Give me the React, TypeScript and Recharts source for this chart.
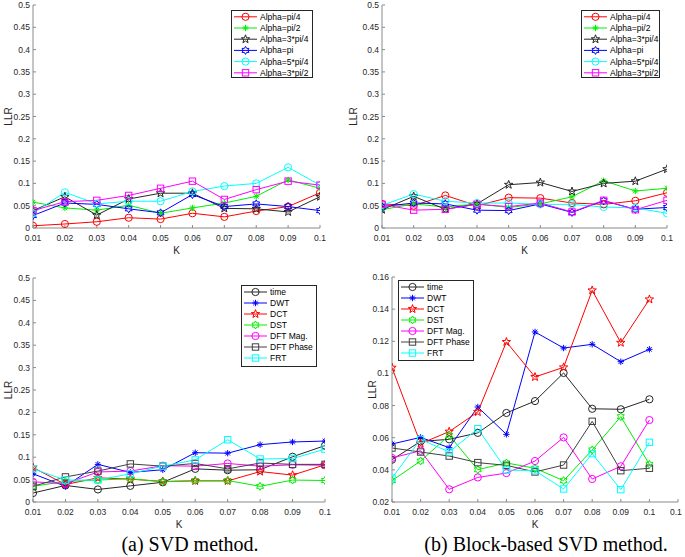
import React from 'react';
import { LineChart, Line, XAxis, YAxis, Legend } from 'recharts';

// ---------- data ----------
const kValues = [0.01, 0.02, 0.03, 0.04, 0.05, 0.06, 0.07, 0.08, 0.09, 0.1];
const xTicksA = [0.01, 0.02, 0.03, 0.04, 0.05, 0.06, 0.07, 0.08, 0.09, 0.1];
const xTicksB = [0.01, 0.02, 0.03, 0.04, 0.05, 0.06, 0.07, 0.08, 0.09, 0.1, 0.11];
const yTicksA = [0, 0.05, 0.1, 0.15, 0.2, 0.25, 0.3, 0.35, 0.4, 0.45, 0.5];
const yTicksB = [0.02, 0.04, 0.06, 0.08, 0.1, 0.12, 0.14, 0.16];

const alphaNames = ['Alpha=pi/4', 'Alpha=pi/2', 'Alpha=3*pi/4', 'Alpha=pi', 'Alpha=5*pi/4', 'Alpha=3*pi/2'];
const domainNames = ['time', 'DWT', 'DCT', 'DST', 'DFT Mag.', 'DFT Phase', 'FRT'];

// SVD method, alpha variants
const svdPi4 = [0.005, 0.009, 0.014, 0.023, 0.02, 0.033, 0.025, 0.038, 0.048, 0.079];
const svdPi2 = [0.058, 0.045, 0.04, 0.051, 0.033, 0.045, 0.056, 0.071, 0.108, 0.089];
const svd3Pi4 = [0.039, 0.07, 0.029, 0.065, 0.078, 0.078, 0.044, 0.043, 0.036, 0.07];
const svdPi = [0.028, 0.056, 0.053, 0.043, 0.034, 0.075, 0.048, 0.054, 0.048, 0.039];
const svd5Pi4 = [0.033, 0.08, 0.054, 0.06, 0.06, 0.082, 0.094, 0.1, 0.136, 0.096];
const svd3Pi2 = [0.039, 0.059, 0.062, 0.073, 0.089, 0.105, 0.064, 0.086, 0.105, 0.096];

// Block-based SVD method, alpha variants
const blkPi4 = [0.054, 0.05, 0.073, 0.05, 0.068, 0.067, 0.056, 0.053, 0.061, 0.079];
const blkPi2 = [0.041, 0.054, 0.047, 0.054, 0.046, 0.054, 0.07, 0.106, 0.083, 0.089];
const blk3Pi4 = [0.041, 0.071, 0.042, 0.054, 0.097, 0.102, 0.082, 0.1, 0.105, 0.132];
const blkPi = [0.048, 0.056, 0.054, 0.04, 0.039, 0.054, 0.035, 0.061, 0.042, 0.046];
const blk5Pi4 = [0.051, 0.076, 0.06, 0.056, 0.056, 0.053, 0.053, 0.047, 0.045, 0.033];
const blk3Pi2 = [0.053, 0.04, 0.042, 0.053, 0.048, 0.056, 0.036, 0.062, 0.041, 0.062];

// SVD method, domains
const svdTime = [0.02, 0.037, 0.028, 0.036, 0.044, 0.074, 0.071, 0.072, 0.101, 0.126];
const svdDWT = [0.063, 0.035, 0.084, 0.066, 0.072, 0.11, 0.109, 0.128, 0.134, 0.136];
const svdDCT = [0.077, 0.039, 0.054, 0.051, 0.046, 0.047, 0.047, 0.068, 0.06, 0.083];
const svdDST = [0.035, 0.046, 0.049, 0.052, 0.045, 0.048, 0.048, 0.035, 0.049, 0.048];
const svdMag = [0.045, 0.041, 0.067, 0.069, 0.081, 0.08, 0.086, 0.08, 0.083, 0.082];
const svdPhase = [0.035, 0.056, 0.069, 0.085, 0.08, 0.086, 0.074, 0.087, 0.084, 0.084];
const svdFRT = [0.074, 0.049, 0.049, 0.063, 0.08, 0.094, 0.139, 0.096, 0.097, 0.118];

// Block-based SVD method, domains
const blkTime = [0.0463, 0.0577, 0.059, 0.063, 0.0754, 0.0828, 0.1003, 0.078, 0.0777, 0.0839];
const blkDWT = [0.0561, 0.0602, 0.0538, 0.0791, 0.0621, 0.1258, 0.1158, 0.1181, 0.1073, 0.115];
const blkDCT = [0.1036, 0.0563, 0.0638, 0.076, 0.1196, 0.0978, 0.1038, 0.1517, 0.1191, 0.1461];
const blkDST = [0.0333, 0.0455, 0.0615, 0.0401, 0.0443, 0.041, 0.0333, 0.0524, 0.0731, 0.0434];
const blkMag = [0.0474, 0.0519, 0.0279, 0.0353, 0.038, 0.0455, 0.0602, 0.0343, 0.0422, 0.071];
const blkPhase = [0.0536, 0.0511, 0.0486, 0.0445, 0.0428, 0.0387, 0.043, 0.0702, 0.0395, 0.041];
const blkFRT = [0.0349, 0.059, 0.0511, 0.0656, 0.0399, 0.0395, 0.0281, 0.0501, 0.0277, 0.0571];

// ---------- styling ----------
const alphaColors = ['#ff0000', '#00ee00', '#262626', '#0000ff', '#00ffff', '#ff00ff'];
const alphaShapes = ['o', '*', 'p', 'h', 'o', 's'];
const domainColors = ['#262626', '#0000ff', '#ff0000', '#00ee00', '#ff00ff', '#404040', '#00ffff'];
const domainShapes = ['o', '*', 'p', 'h', 'o', 's', 's'];

type Series = { key: string; name: string; color: string; shape: string; values: number[] };

const makeSeries = (names: string[], colors: string[], shapes: string[], vals: number[][]): Series[] =>
  names.map((n, i) => ({ key: 's' + i, name: n, color: colors[i], shape: shapes[i], values: vals[i] }));

const buildRows = (series: Series[]) =>
  kValues.map((k, i) => {
    const r: any = { k };
    series.forEach((s) => (r[s.key] = s.values[i]));
    return r;
  });

function starPoints(cx: number, cy: number, n: number, ro: number, ri: number) {
  const pts: string[] = [];
  for (let i = 0; i < 2 * n; i++) {
    const r = i % 2 === 0 ? ro : ri;
    const a = -Math.PI / 2 + (i * Math.PI) / n;
    pts.push(`${(cx + r * Math.cos(a)).toFixed(2)},${(cy + r * Math.sin(a)).toFixed(2)}`);
  }
  return pts.join(' ');
}

function Marker({ shape, cx, cy, color }: { shape: string; cx: number; cy: number; color: string }) {
  if (cx == null || cy == null || isNaN(cx) || isNaN(cy)) return <g />;
  switch (shape) {
    case 'o':
      return <circle cx={cx} cy={cy} r={3.6} fill="none" stroke={color} strokeWidth={1} />;
    case 's':
      return <rect x={cx - 3.2} y={cy - 3.2} width={6.4} height={6.4} fill="none" stroke={color} strokeWidth={1} />;
    case '*': {
      const r = 3.2;
      const d = r * 0.72;
      return (
        <g stroke={color} strokeWidth={1}>
          <line x1={cx - r} y1={cy} x2={cx + r} y2={cy} />
          <line x1={cx} y1={cy - r} x2={cx} y2={cy + r} />
          <line x1={cx - d} y1={cy - d} x2={cx + d} y2={cy + d} />
          <line x1={cx - d} y1={cy + d} x2={cx + d} y2={cy - d} />
        </g>
      );
    }
    case 'p':
      return <polygon points={starPoints(cx, cy, 5, 4.4, 1.8)} fill="none" stroke={color} strokeWidth={1} />;
    case 'h':
      return <polygon points={starPoints(cx, cy, 6, 4, 2.3)} fill="none" stroke={color} strokeWidth={1} />;
    default:
      return <circle cx={cx} cy={cy} r={3} fill="none" stroke={color} />;
  }
}

function LegendBox(props: any) {
  const { payload, series, w, h, rowStart, rowStep } = props;
  const keys = new Set((payload || []).map((p: any) => p.dataKey));
  const list: Series[] = series.filter((s: Series) => keys.size === 0 || keys.has(s.key));
  return (
    <svg width={w} height={h} style={{ display: 'block' }}>
      <rect x={0.5} y={0.5} width={w - 1} height={h - 1} fill="#ffffff" stroke="#262626" strokeWidth={1} />
      {list.map((s, i) => {
        const y = rowStart + i * rowStep;
        return (
          <g key={s.key}>
            <line x1={3} x2={26} y1={y} y2={y} stroke={s.color} strokeWidth={1} />
            <Marker shape={s.shape} cx={14.5} cy={y} color={s.color} />
            <text x={29} y={y} dy="0.35em" fontSize={8.5} fill="#000" fontFamily="'Liberation Sans', Arial, sans-serif">
              {s.name}
            </text>
          </g>
        );
      })}
    </svg>
  );
}

const FONT = "'Liberation Sans', Arial, sans-serif";
const AXIS = '#8a8a8a';
const TICKTXT = '#262626';

type PanelProps = {
  left: number;
  top: number;
  width: number;
  height: number;
  margin: { top: number; right: number; bottom: number; left: number };
  xDomain: [number, number];
  xTicks: number[];
  yDomain: [number, number];
  yTicks: number[];
  series: Series[];
  legend: { left: number; top: number; w: number; h: number; rowStart: number; rowStep: number };
  llrOffset: number;
};

function Panel(p: PanelProps) {
  const rows = buildRows(p.series);
  const tickStyle = { fontSize: 8.5, fill: TICKTXT, fontFamily: FONT };
  return (
    <div style={{ position: 'absolute', left: p.left, top: p.top }}>
      <LineChart width={p.width} height={p.height} data={rows} margin={p.margin}>
        <XAxis
          dataKey="k"
          type="number"
          domain={p.xDomain}
          ticks={p.xTicks}
          interval={0}
          height={30}
          tickSize={-3}
          tickMargin={9.5}
          tick={tickStyle}
          stroke={AXIS}
          axisLine={{ stroke: AXIS }}
          tickLine={{ stroke: AXIS }}
          tickFormatter={(v: number) => String(v)}
          allowDataOverflow
          label={{ value: 'K', position: 'insideBottom', offset: 4.5, fontSize: 10, fill: TICKTXT, fontFamily: FONT }}
        />
        <XAxis
          xAxisId="top"
          dataKey="k"
          type="number"
          orientation="top"
          domain={p.xDomain}
          ticks={p.xTicks}
          interval={0}
          height={0}
          tickSize={-3}
          tickFormatter={() => ''}
          axisLine={{ stroke: AXIS }}
          tickLine={{ stroke: AXIS }}
          allowDataOverflow
        />
        <YAxis
          type="number"
          domain={p.yDomain}
          ticks={p.yTicks}
          interval={0}
          width={30}
          tickSize={-3}
          tickMargin={6}
          tick={tickStyle}
          axisLine={{ stroke: AXIS }}
          tickLine={{ stroke: AXIS }}
          tickFormatter={(v: number) => String(v)}
          allowDataOverflow
          label={{
            value: 'LLR',
            angle: -90,
            position: 'insideLeft',
            offset: p.llrOffset,
            fontSize: 10,
            fill: TICKTXT,
            fontFamily: FONT,
            style: { textAnchor: 'middle' },
          }}
        />
        <YAxis
          yAxisId="right"
          type="number"
          orientation="right"
          domain={p.yDomain}
          ticks={p.yTicks}
          interval={0}
          width={0}
          tickSize={-3}
          tickFormatter={() => ''}
          axisLine={{ stroke: AXIS }}
          tickLine={{ stroke: AXIS }}
          allowDataOverflow
        />
        {p.series.map((s) => (
          <Line
            key={s.key}
            dataKey={s.key}
            name={s.name}
            type="linear"
            stroke={s.color}
            strokeWidth={1}
            isAnimationActive={false}
            activeDot={false}
            dot={(d: any) => <Marker key={`${s.key}-${d.index}`} shape={s.shape} cx={d.cx} cy={d.cy} color={s.color} />}
          />
        ))}
        <Legend
          layout="horizontal"
          align="center"
          verticalAlign="middle"
          wrapperStyle={{ left: p.legend.left, top: p.legend.top, width: p.legend.w, height: p.legend.h }}
          content={
            <LegendBox
              series={p.series}
              w={p.legend.w}
              h={p.legend.h}
              rowStart={p.legend.rowStart}
              rowStep={p.legend.rowStep}
            />
          }
        />
      </LineChart>
    </div>
  );
}

const seriesA1 = makeSeries(alphaNames, alphaColors, alphaShapes, [svdPi4, svdPi2, svd3Pi4, svdPi, svd5Pi4, svd3Pi2]);
const seriesB1 = makeSeries(alphaNames, alphaColors, alphaShapes, [blkPi4, blkPi2, blk3Pi4, blkPi, blk5Pi4, blk3Pi2]);
const seriesA2 = makeSeries(domainNames, domainColors, domainShapes, [svdTime, svdDWT, svdDCT, svdDST, svdMag, svdPhase, svdFRT]);
const seriesB2 = makeSeries(domainNames, domainColors, domainShapes, [blkTime, blkDWT, blkDCT, blkDST, blkMag, blkPhase, blkFRT]);

export default function App() {
  return (
    <div
      style={{
        position: 'absolute',
        left: 0,
        top: 0,
        width: 685,
        height: 557,
        background: '#ffffff',
        overflow: 'hidden',
      }}
    >
      <svg width={685} height={557} style={{ position: 'absolute', left: 0, top: 0 }}>
        <text x={190} y={551} textAnchor="middle" fontSize={20} fontFamily="'Liberation Serif', 'Times New Roman', serif" fill="#000">
          (a) SVD method.
        </text>
        <text x={546} y={551} textAnchor="middle" fontSize={20} fontFamily="'Liberation Serif', 'Times New Roman', serif" fill="#000">
          (b) Block-based SVD method.
        </text>
      </svg>
      <Panel
        left={0}
        top={0}
        width={330}
        height={265}
        margin={{ top: 5, right: 10, bottom: 7, left: 3 }}
        xDomain={[0.01, 0.1]}
        xTicks={xTicksA}
        yDomain={[0, 0.5]}
        yTicks={yTicksA}
        series={seriesA1}
        legend={{ left: 231, top: 10, w: 82, h: 68, rowStart: 6.8, rowStep: 11.2 }}
        llrOffset={5}
      />
      <Panel
        left={342}
        top={0}
        width={335}
        height={265}
        margin={{ top: 5, right: 10, bottom: 7, left: 10 }}
        xDomain={[0.01, 0.1]}
        xTicks={xTicksA}
        yDomain={[0, 0.5]}
        yTicks={yTicksA}
        series={seriesB1}
        legend={{ left: 239, top: 10, w: 79, h: 68, rowStart: 6.8, rowStep: 11.2 }}
        llrOffset={1.5}
      />
      <Panel
        left={0}
        top={273}
        width={335}
        height={261}
        margin={{ top: 5, right: 10, bottom: 2, left: 3 }}
        xDomain={[0.01, 0.1]}
        xTicks={xTicksA}
        yDomain={[0, 0.5]}
        yTicks={yTicksA}
        series={seriesA2}
        legend={{ left: 241, top: 12, w: 76, h: 82, rowStart: 7, rowStep: 11 }}
        llrOffset={5}
      />
      <Panel
        left={342}
        top={272}
        width={340}
        height={262}
        margin={{ top: 5, right: 4, bottom: 2, left: 20 }}
        xDomain={[0.01, 0.11]}
        xTicks={xTicksB}
        yDomain={[0.02, 0.16]}
        yTicks={yTicksB}
        series={seriesB2}
        legend={{ left: 56, top: 8, w: 76, h: 81, rowStart: 7, rowStep: 11 }}
        llrOffset={10}
      />
    </div>
  );
}
